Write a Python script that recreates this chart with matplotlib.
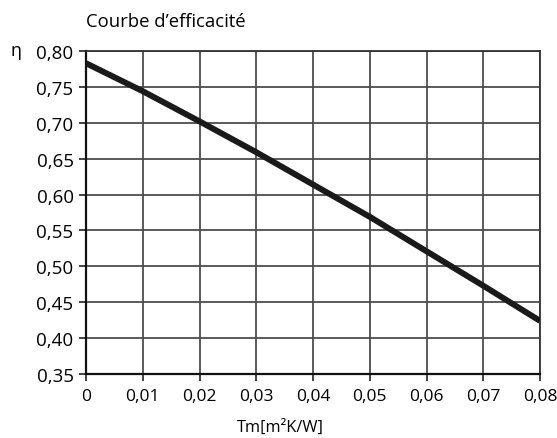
import matplotlib
matplotlib.use("Agg")
import matplotlib.pyplot as plt

# efficiency
tm = [0.0, 0.01, 0.02, 0.03, 0.04, 0.05, 0.06, 0.07, 0.08]
eta = [0.783, 0.744, 0.702, 0.659, 0.614, 0.569, 0.521, 0.473, 0.424]

x_ticks = [0.0, 0.01, 0.02, 0.03, 0.04, 0.05, 0.06, 0.07, 0.08]
x_labels = ['0', '0,01', '0,02', '0,03', '0,04', '0,05', '0,06', '0,07', '0,08']
y_ticks = [0.35, 0.40, 0.45, 0.50, 0.55, 0.60, 0.65, 0.70, 0.75, 0.80]
y_labels = ['0,35', '0,40', '0,45', '0,50', '0,55', '0,60', '0,65', '0,70', '0,75', '0,80']

tickfont = ['Open Sans', 'DejaVu Sans']

fig = plt.figure(figsize=(5.57, 4.39), dpi=100)
ax = fig.add_axes([0.1544, 0.1458, 0.8151, 0.7357])

ax.plot(tm, eta, color='#1a1a1a', linewidth=4.3, solid_capstyle='butt', zorder=3)

ax.set_xlim(0, 0.08)
ax.set_ylim(0.35, 0.80)
ax.set_xticks(x_ticks)
ax.set_xticklabels(x_labels, family=tickfont, fontsize=12.5)
ax.set_yticks(y_ticks)
ax.set_yticklabels(y_labels, family=tickfont, fontsize=13.5)
ax.tick_params(axis='both', direction='out', length=5, width=1.2, color='#222222')
ax.tick_params(axis='x', pad=5)
ax.tick_params(axis='y', pad=4)

ax.grid(True, color='#4d4d4d', linewidth=1.3)
ax.set_axisbelow(True)
for s in ax.spines.values():
    s.set_color('#333333')
    s.set_linewidth(1.3)
ax.spines['left'].set_color('#111111')
ax.spines['bottom'].set_color('#111111')
ax.spines['left'].set_linewidth(1.6)
ax.spines['bottom'].set_linewidth(1.6)

fig.text(0.154, 0.95, "Courbe d\u2019efficacité", family=tickfont, fontsize=13.3,
         ha='left', va='center')
fig.text(0.029, 0.884, "\u03b7", family=tickfont, fontsize=13, ha='center', va='center')
fig.text(0.503, 0.025, "Tm[m\u00b2K/W]", family=tickfont, fontsize=11.8,
         ha='center', va='center')

fig.savefig('out.png', dpi=100)
